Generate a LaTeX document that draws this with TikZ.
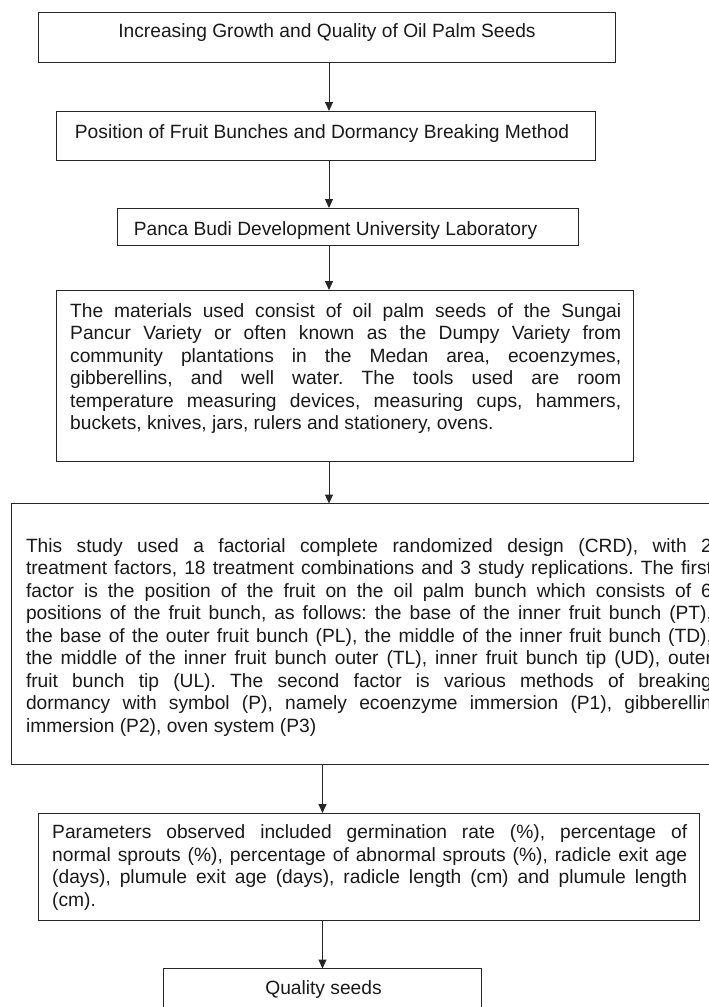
\documentclass[tikz,border=0pt]{standalone}
\usepackage{fontspec}
\setmainfont{Liberation Sans}
\usetikzlibrary{arrows.meta}
\frenchspacing
\begin{document}
\begin{tikzpicture}[x=1pt,y=-1pt,
  box/.style={draw=black!85, line width=1pt, inner sep=0pt, outer sep=0pt, anchor=north west},
  txt/.style={inner sep=0pt, font=\fontsize{19.2}{22.5}\selectfont\frenchspacing, text=black!90},
  para/.style={txt, align=justify, anchor=north west},
  arr/.style={-{Triangle[length=9pt,width=8pt]}, line width=1pt, draw=black!85}]
\useasboundingbox (0,0) rectangle (709,1007);
\clip (0,0) rectangle (709,1007);
% boxes
\node[box, minimum width=577pt, minimum height=50pt] (b1) at (38,12.3) {};
\node[box, minimum width=538.4pt, minimum height=49pt] (b2) at (56.6,111) {};
\node[box, minimum width=461pt, minimum height=37.7pt] (b3) at (117,208) {};
\node[box, minimum width=577pt, minimum height=171pt] (b4) at (56.6,290) {};
\node[box, minimum width=712.7pt, minimum height=260.5pt] (b5) at (11.3,503.5) {};
\node[box, minimum width=661pt, minimum height=107pt] (b6) at (38,813) {};
\node[box, minimum width=318pt, minimum height=62pt] (b7) at (163.8,968.5) {};
% texts
\node[txt, anchor=base] (t1) at (327,37) {Increasing Growth and Quality of Oil Palm Seeds};
\node[txt, anchor=base] (t2) at (322,138) {Position of Fruit Bunches and Dormancy Breaking Method};
\node[txt, anchor=base] (t3) at (335.5,235) {Panca Budi Development University Laboratory};
\node[para, text width=551pt] (t4) at (70,301.25) {\strut The materials used consist of oil palm seeds of the Sungai\linebreak
Pancur Variety or often known as the Dumpy Variety from\linebreak
community plantations in the Medan area, ecoenzymes,\linebreak
gibberellins, and well water. The tools used are room\linebreak
temperature measuring devices, measuring cups, hammers,\linebreak
buckets, knives, jars, rulers and stationery, ovens.};
\node[para, text width=686pt] (t5) at (25.8,536.25) {\strut This study used a factorial complete randomized design (CRD), with 2\linebreak
treatment factors, 18 treatment combinations and 3 study replications. The first\linebreak
factor is the position of the fruit on the oil palm bunch which consists of 6\linebreak
positions of the fruit bunch, as follows: the base of the inner fruit bunch (PT),\linebreak
the base of the outer fruit bunch (PL), the middle of the inner fruit bunch (TD),\linebreak
the middle of the inner fruit bunch outer (TL), inner fruit bunch tip (UD), outer\linebreak
fruit bunch tip (UL). The second factor is various methods of breaking\linebreak
dormancy with symbol (P), namely ecoenzyme immersion (P1), gibberellin\linebreak
immersion (P2), oven system (P3)};
\node[para, text width=635pt] (t6) at (52,823) {\strut Parameters observed included germination rate (\%), percentage of\linebreak
normal sprouts (\%), percentage of abnormal sprouts (\%), radicle exit age\linebreak
(days), plumule exit age (days), radicle length (cm) and plumule length\linebreak
(cm).};
\node[txt, anchor=base] (t7) at (323.5,994) {Quality seeds};
% connectors
\coordinate (ax) at (329,0);
\coordinate (bx) at (322.5,0);
\draw[arr] (b1.south -| ax) -- (b2.north -| ax);
\draw[arr] (b2.south -| ax) -- (b3.north -| ax);
\draw[arr] (b3.south -| ax) -- (b4.north -| ax);
\draw[arr] (b4.south -| ax) -- (b5.north -| ax);
\draw[arr] (b5.south -| bx) -- (b6.north -| bx);
\draw[arr] (b6.south -| bx) -- (b7.north -| bx);
\end{tikzpicture}
\end{document}
